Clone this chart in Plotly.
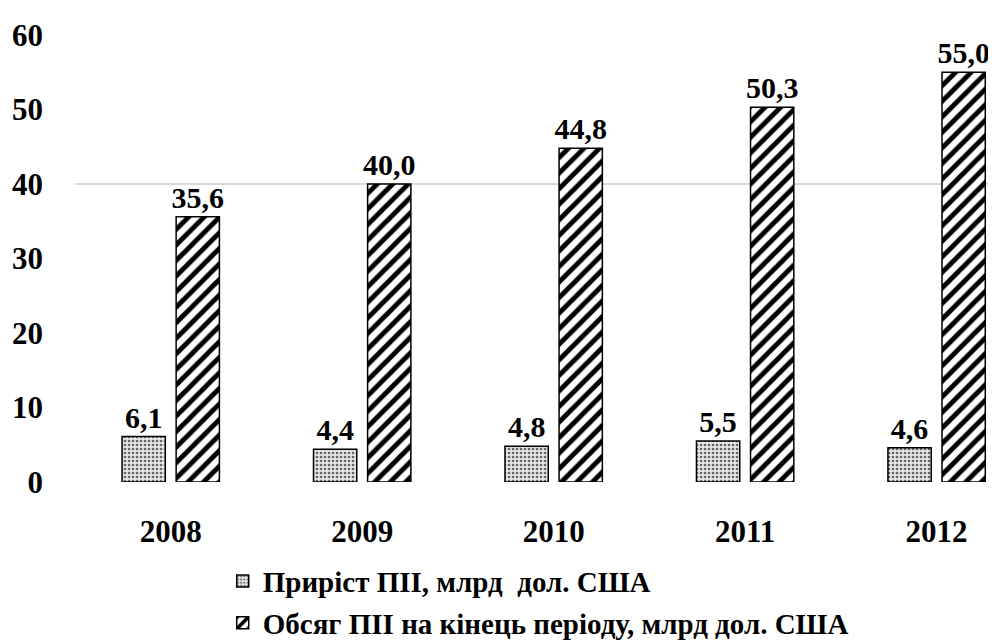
import plotly.graph_objects as go

years = ["2008", "2009", "2010", "2011", "2012"]
growth = [6.1, 4.4, 4.8, 5.5, 4.6]
volume = [35.6, 40.0, 44.8, 50.3, 55.0]
name_growth = "Приріст ПІІ, млрд  дол. США"
name_volume = "Обсяг ПІІ на кінець періоду, млрд дол. США"
y_ticks = [0, 10, 20, 30, 40, 50, 60]

FONT = "Liberation Serif"
lab_font = dict(family=FONT, size=30, color="black", weight="bold")

fig = go.Figure()
fig.add_trace(go.Bar(
    x=years, y=growth, name=name_growth, legendgroup="a",
    marker=dict(color="#e6e6e6", line=dict(color="black", width=1.5),
                pattern=dict(shape=".", fgcolor="#666666", bgcolor="#e6e6e6", fgopacity=1,
                             size=4, solidity=0.35)),
    texttemplate="%{y:.1f}", textposition="outside", textfont=lab_font,
    constraintext="none", cliponaxis=False,
))
fig.add_trace(go.Bar(
    x=years, y=volume, name=name_volume, legendgroup="b",
    marker=dict(color="white", line=dict(color="black", width=1.5),
                pattern=dict(shape="/", fgcolor="black", bgcolor="white", fgopacity=1,
                             size=11, solidity=0.45)),
    texttemplate="%{y:.1f}", textposition="outside", textfont=lab_font,
    constraintext="none", cliponaxis=False,
))
# helper trace for the reference gridlines axis
fig.add_trace(go.Scatter(x=years, y=[None] * len(years), yaxis="y2", showlegend=False,
                         hoverinfo="skip", mode="lines"))

fig.update_layout(
    width=996, height=641,
    margin=dict(l=67, r=0, t=27, b=157),
    paper_bgcolor="white", plot_bgcolor="white",
    separators=", ",
    barmode="group", bargap=0.435, bargroupgap=0.2,
    showlegend=True,
    legend=dict(orientation="v", x=0.159, xanchor="left", y=-0.165, yanchor="top",
                font=dict(family=FONT, size=29, color="black", weight="bold"),
                traceorder="grouped", tracegroupgap=1, bgcolor="rgba(0,0,0,0)"),
    xaxis=dict(type="category", range=[-0.5, 4.352], showgrid=False, showline=False,
               zeroline=False, ticks="", ticklabelstandoff=28,
               tickfont=dict(family=FONT, size=31, color="black", weight="bold")),
    yaxis=dict(range=[0, 60], tickvals=y_ticks, showgrid=False, zeroline=False, showline=False,
               ticks="", ticklabelstandoff=31,
               tickfont=dict(family=FONT, size=31, color="black", weight="bold")),
    yaxis2=dict(range=[0, 60], overlaying="y", side="left", tickvals=[0, 40],
                showticklabels=False, showgrid=True, gridcolor="#d9d9d9", gridwidth=2,
                zeroline=False, showline=False, ticks=""),
)

fig.write_html("out.html")
